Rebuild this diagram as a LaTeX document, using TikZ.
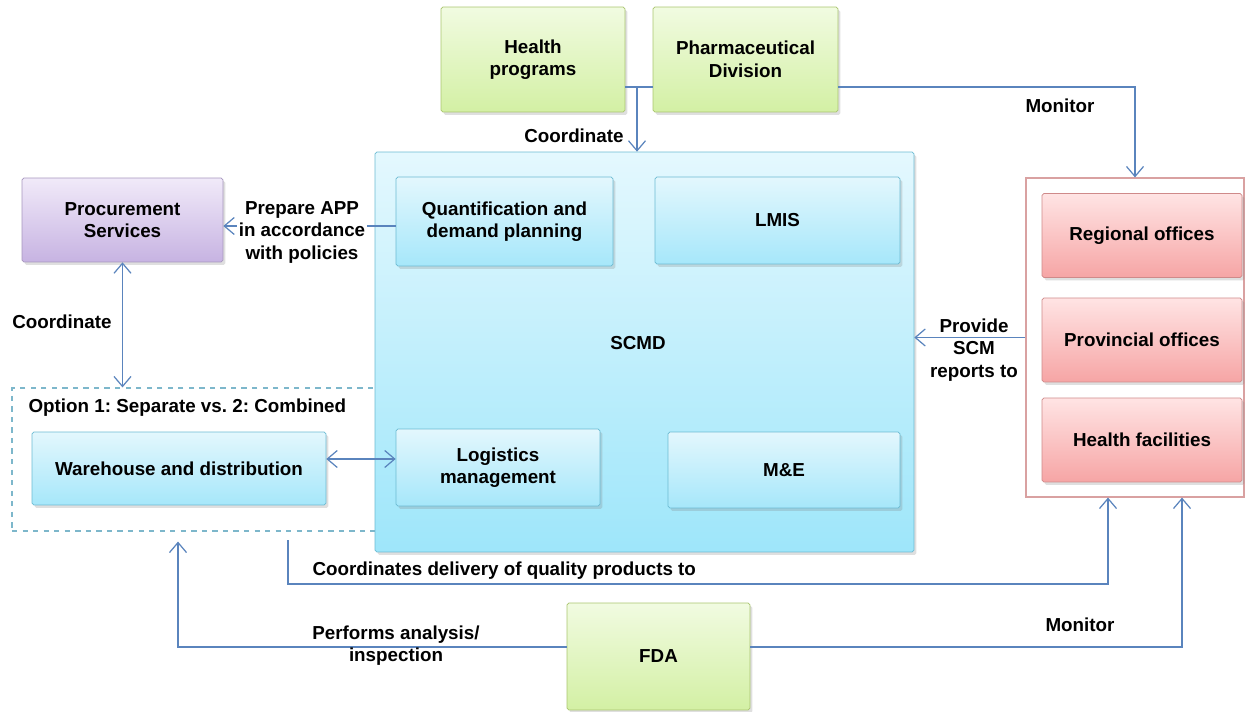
\documentclass[tikz,border=0pt]{standalone}
\usepackage{fontspec}
\setmainfont{Liberation Sans}
\usepackage{tikz}
\usetikzlibrary{arrows.meta,positioning,calc,shadows}
\definecolor{greentop}{HTML}{F1FBE1}
\definecolor{greenbot}{HTML}{D3F0A4}
\definecolor{greenline}{HTML}{A9C56E}
\definecolor{bluetop}{HTML}{E3F7FD}
\definecolor{bluebot}{HTML}{A6E7FA}
\definecolor{blueline}{HTML}{6CBBD3}
\definecolor{scmdtop}{HTML}{E4F8FE}
\definecolor{scmdbot}{HTML}{9EE6FA}
\definecolor{redtop}{HTML}{FFE4E4}
\definecolor{redbot}{HTML}{F6A5A5}
\definecolor{redline}{HTML}{CF8A8A}
\definecolor{purpletop}{HTML}{F1EAF9}
\definecolor{purplebot}{HTML}{C7B3E2}
\definecolor{purpleline}{HTML}{A696BE}
\definecolor{arrowblue}{HTML}{5A84BD}
\definecolor{dashblue}{HTML}{7DB7CB}
\tikzset{box/.style={draw,rounded corners=1pt,align=center,font=\bfseries,inner sep=3pt,drop shadow={opacity=0.25,shadow xshift=0.5mm,shadow yshift=-0.6mm}},greenbox/.style={box,draw=greenline,top color=greentop,bottom color=greenbot,minimum width=3.68cm,minimum height=2.1cm},bluebox/.style={box,draw=blueline,top color=bluetop,bottom color=bluebot},redbox/.style={box,draw=redline,top color=redtop,bottom color=redbot,minimum width=4cm,minimum height=1.68cm},arr/.style={-{Straight Barb[length=2mm,width=3.4mm]},draw=arrowblue,line width=0.7pt},darr/.style={arr,{Straight Barb[length=2mm,width=3.4mm]}-{Straight Barb[length=2mm,width=3.4mm]}},link/.style={draw=arrowblue,line width=0.7pt},note/.style={font=\bfseries,align=center}}
\begin{document}
\frenchspacing
\fontsize{10.7}{12.8}\selectfont
\begin{tikzpicture}[x=0.02cm,y=-0.02cm]
\useasboundingbox (0,0) rectangle (1247,712);
\node[draw=dashblue,dashed,line width=0.7pt,minimum width=7.56cm,minimum height=2.86cm] (option) at (201,459.5) {};
\node[note,anchor=west] (optlabel) at (22,408) {Option 1: Separate vs. 2: Combined};
\node[greenbox] (health) at (533,59.5) {Health\\programs};
\node[greenbox,minimum width=3.7cm] (pharma) at (745.5,59.5) {Pharmaceutical\\Division};
\node[box,draw=blueline,top color=scmdtop,bottom color=scmdbot,minimum width=10.78cm,minimum height=8cm] (scmd) at (644.5,352) {};
\node[note] (scmdlabel) at (638,343) {SCMD};
\node[bluebox,minimum width=4.34cm,minimum height=1.78cm] (quant) at (504.5,221.5) {Quantification and\\demand planning};
\node[bluebox,minimum width=4.9cm,minimum height=1.74cm] (lmis) at (777.5,220.5) {LMIS};
\node[bluebox,minimum width=4.08cm,minimum height=1.54cm] (logis) at (498,467.5) {Logistics\\management};
\node[bluebox,minimum width=4.64cm,minimum height=1.52cm] (me) at (784,470) {M\&E};
\node[box,draw=purpleline,top color=purpletop,bottom color=purplebot,minimum width=4.02cm,minimum height=1.68cm] (proc) at (122.5,220) {Procurement\\Services};
\node[bluebox,minimum width=5.88cm,minimum height=1.46cm] (ware) at (179,468.5) {Warehouse and distribution};
\node[draw=redline!80,fill=white,line width=0.7pt,minimum width=4.36cm,minimum height=6.38cm] (offices) at (1135,337.5) {};
\node[redbox] (regional) at (1142,235.5) {Regional offices};
\node[redbox] (provincial) at (1142,340) {Provincial offices};
\node[redbox] (facilities) at (1142,440) {Health facilities};
\node[greenbox,minimum width=3.66cm,minimum height=2.14cm] (fda) at (658.5,656.5) {FDA};
\coordinate (join) at (637,87);
\coordinate (dstart) at (288,540);
\coordinate (dturn) at (1108,584);
\coordinate (fdaleft) at (178,647);
\coordinate (fdaright) at (1182,647);
\draw[link] (health.east |- join)--(pharma.west |- join);
\draw[arr] (join)--(scmd.north -| join);
\node[note] (coordtop) at (574,136) {Coordinate};
\draw[arr] (pharma.east |- join) -| (offices.north);
\node[note] (montop) at (1060,106) {Monitor};
\draw[arr] (quant.west |- 0,226)--(proc.east |- 0,226);
\node[note,fill=white,inner sep=1pt] (prepare) at (302,232) {Prepare APP\\in accordance\\with policies};
\draw[darr] (proc.south)--(proc.south |- option.north);
\node[note] (coordleft) at (62,322) {Coordinate};
\draw[darr] (ware.east |- 0,459)--(logis.west |- 0,459);
\draw[arr] (offices.west)--(offices.west -| scmd.east);
\node[note] (provide) at (974,350) {Provide\\SCM\\reports to};
\draw[arr] (dstart) |- (dturn)--(offices.south -| dturn);
\node[note,anchor=west] (delivery) at (306,571) {Coordinates delivery of quality products to};
\draw[arr,shorten >=0.2cm] (fda.west |- fdaleft) -| (option.south -| fdaleft);
\node[note] (performs) at (396,645.5) {Performs analysis/\\inspection};
\draw[arr] (fda.east |- fdaright) -| (offices.south -| fdaright);
\node[note] (monbottom) at (1080,625) {Monitor};
\end{tikzpicture}
\end{document}
